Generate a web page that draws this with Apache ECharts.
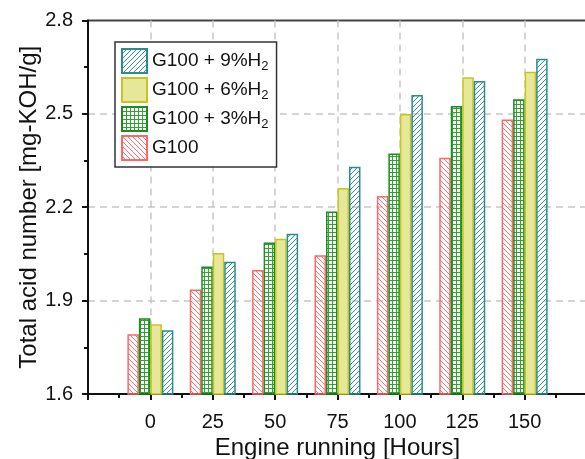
<!DOCTYPE html>
<html>
<head>
<meta charset="utf-8">
<script src="https://cdn.jsdelivr.net/npm/echarts@6/dist/echarts.min.js"></script>
<style>
  html, body { margin: 0; padding: 0; background: #fff; }
  #chart { width: 585px; height: 459px; }
</style>
</head>
<body>
<div id="chart"></div>
<script>
// engine running hours (x positions)
const hours = [0, 25, 50, 75, 100, 125, 150];
// total acid number, mg-KOH/g
const g100 = [1.792, 1.936, 1.998, 2.046, 2.236, 2.359, 2.482];
const h3 = [1.843, 2.010, 2.087, 2.186, 2.373, 2.525, 2.547];
const h6 = [1.824, 2.053, 2.099, 2.262, 2.500, 2.618, 2.635];
const h9 = [1.805, 2.025, 2.115, 2.330, 2.561, 2.606, 2.677];
const seriesNames = ['G100', 'G100 + 3%H2', 'G100 + 6%H2', 'G100 + 9%H2'];

function hatch(color, size, dir) {
  let c = document.createElement('canvas');
  c.width = size; c.height = size;
  let ctx = c.getContext('2d');
  ctx.strokeStyle = color;
  ctx.lineWidth = 1;
  for (let k = -1; k <= 1; k++) {
    ctx.beginPath();
    if (dir == 'back') {
      ctx.moveTo(k * size, 0);
      ctx.lineTo(k * size + size, size);
    } else {
      ctx.moveTo(k * size, size);
      ctx.lineTo(k * size + size, 0);
    }
    ctx.stroke();
  }
  return {image: c, repeat: 'repeat'};
}

function grid(color, size) {
  let c = document.createElement('canvas');
  c.width = size; c.height = size;
  let ctx = c.getContext('2d');
  ctx.fillStyle = color;
  ctx.fillRect(0, 0, size, 1);
  ctx.fillRect(0, 0, 1, size);
  return {image: c, repeat: 'repeat'};
}

const styles = [
  {color: hatch('#ff7070', 5, 'back'), borderColor: '#ff6666'},
  {color: grid('#35a035', 4), borderColor: '#1e8c1e'},
  {color: '#e7e79a', borderColor: '#c6c620'},
  {color: hatch('#359696', 5, 'fwd'), borderColor: '#2a8c8c'}
];
const values = [g100, h3, h6, h9];

let myEcharts = echarts.init(document.getElementById('chart'));
let option = {
  animation: false,
  textStyle: {fontFamily: 'Liberation Sans, Arial, sans-serif'},
  grid: {
    left: 88, width: 499, top: 20.5, height: 373.5,
    outerBoundsMode: 'none',
    containLabel: false,
    show: true, borderColor: '#444', borderWidth: 2
  },
  legend: {
    orient: 'vertical',
    left: 115, top: 42,
    data: [seriesNames[3], seriesNames[2], seriesNames[1], seriesNames[0]],
    backgroundColor: '#fff',
    borderColor: '#333',
    borderWidth: 1.5,
    borderRadius: 0,
    padding: [6, 8, 6, 6],
    itemWidth: 25,
    itemHeight: 24,
    itemGap: 3,
    icon: 'rect',
    formatter: function (name) {
      return name.replace(/H2$/, 'H{sub|2}');
    },
    textStyle: {
      fontSize: 19,
      color: '#111',
      rich: {
        sub: {fontSize: 13, padding: [10, 0, 0, 0], color: '#111'}
      }
    }
  },
  xAxis: {
    type: 'value',
    min: -25, max: 175, interval: 25,
    name: 'Engine running [Hours]',
    nameLocation: 'middle',
    nameGap: 42,
    nameMoveOverlap: false,
    nameTextStyle: {fontSize: 24, color: '#111'},
    axisLine: {onZero: false, lineStyle: {color: '#111', width: 2}},
    axisTick: {show: true, length: 6, lineStyle: {color: '#111', width: 2}},
    minorTick: {show: true, splitNumber: 2, length: 4, lineStyle: {color: '#111', width: 2}},
    axisLabel: {
      fontSize: 20, color: '#111', margin: 18,
      formatter: function (v) { return (v < 0 || v > 150) ? '' : v; }
    },
    splitLine: {
      show: true, showMinLine: false, showMaxLine: false,
      lineStyle: {color: '#c8c8c8', type: [7, 5], width: 1.5}
    }
  },
  yAxis: {
    type: 'value',
    min: 1.6, max: 2.8, interval: 0.3,
    name: 'Total acid number [mg-KOH/g]',
    nameLocation: 'middle',
    nameGap: 47,
    nameMoveOverlap: false,
    nameTextStyle: {fontSize: 24, color: '#111'},
    axisLine: {show: true, onZero: false, lineStyle: {color: '#111', width: 2}},
    axisTick: {show: true, length: 6, lineStyle: {color: '#111', width: 2}},
    minorTick: {show: true, splitNumber: 2, length: 4, lineStyle: {color: '#111', width: 2}},
    axisLabel: {
      fontSize: 20, color: '#111', margin: 15,
      formatter: function (v) { return v.toFixed(1); }
    },
    splitLine: {
      show: true, showMinLine: false, showMaxLine: false,
      lineStyle: {color: '#c8c8c8', type: [7, 5], width: 1.5}
    }
  },
  series: seriesNames.map(function (name, i) {
    return {
      name: name,
      type: 'bar',
      barWidth: 11.5,
      barGap: '0%',
      itemStyle: {
        color: styles[i].color,
        borderColor: styles[i].borderColor,
        borderWidth: 1.5
      },
      data: hours.map(function (h, j) { return [h, values[i][j]]; })
    };
  })
};
myEcharts.setOption(option);
</script>
</body>
</html>
